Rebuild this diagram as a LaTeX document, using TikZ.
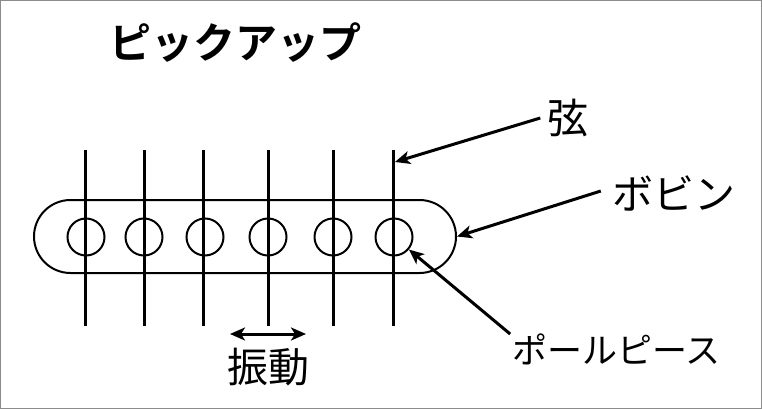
\documentclass[tikz,border=0pt]{standalone}
\usepackage{fontspec}
\newfontfamily\jpfont{Noto Sans CJK JP}
\newfontfamily\jpbold{Noto Sans CJK JP Bold}
\usetikzlibrary{arrows.meta}
\tikzset{
  x=1pt,y=-1pt,
  stringline/.style={line width=3pt,black,line cap=butt},
  bobbinbox/.style={draw,line width=2pt,rounded corners=36.5pt,minimum width=422pt,minimum height=73pt,inner sep=0pt},
  pole/.style={draw,circle,line width=2pt,minimum size=37pt,inner sep=0pt},
  pointer/.style={line width=3pt,-{Stealth[length=15pt,width=13pt,inset=4pt]}},
  sway/.style={line width=3pt,{Stealth[length=15pt,width=13pt,inset=4pt]}-{Stealth[length=15pt,width=13pt,inset=4pt]}},
  lab/.style={inner sep=0pt,font=\fontsize{41}{48}\selectfont\jpfont},
}
\begin{document}
\begin{tikzpicture}
\useasboundingbox (0,0) rectangle (762,409);
\draw[line width=1.2pt,gray!90] (0.6,0.6) rectangle (761.2,408.2);
\node[bobbinbox] (bobbin) at (245,236.5) {};
\foreach \n/\cx/\sx in {1/86/85.5,2/144/144,3/205/203,4/268/268,5/333/333,6/394/393.5}{
  \node[pole] (p\n) at (\cx,237) {};
  \coordinate (st\n) at (\sx,150);
  \coordinate (sb\n) at (\sx,326);
  \draw[stringline] (st\n) -- (sb\n);
}
\coordinate (sa) at (395,162);
\node[font=\fontsize{42}{48}\selectfont\jpbold,inner sep=0pt] (title) at (235,43) {ピックアップ};
\node[lab] (gen) at (568,118) {弦};
\node[lab] (bob) at (673.5,193) {ボビン};
\node[lab,font=\fontsize{35}{40}\selectfont\jpfont] (pp) at (616.5,349) {ポールピース};
\node[lab] (shin) at (268,367) {振動};
\coordinate (va) at (230,334);
\coordinate (vb) at (306,334);
\draw[pointer] (gen.west)++(-7,0) -- (sa);
\draw[pointer] (bob.west)++(-11,-2) -- (bobbin.east);
\draw[pointer] (pp.west)++(-2,-15) -- (p6.-40);
\draw[sway] (va) -- (vb);
\end{tikzpicture}
\end{document}
